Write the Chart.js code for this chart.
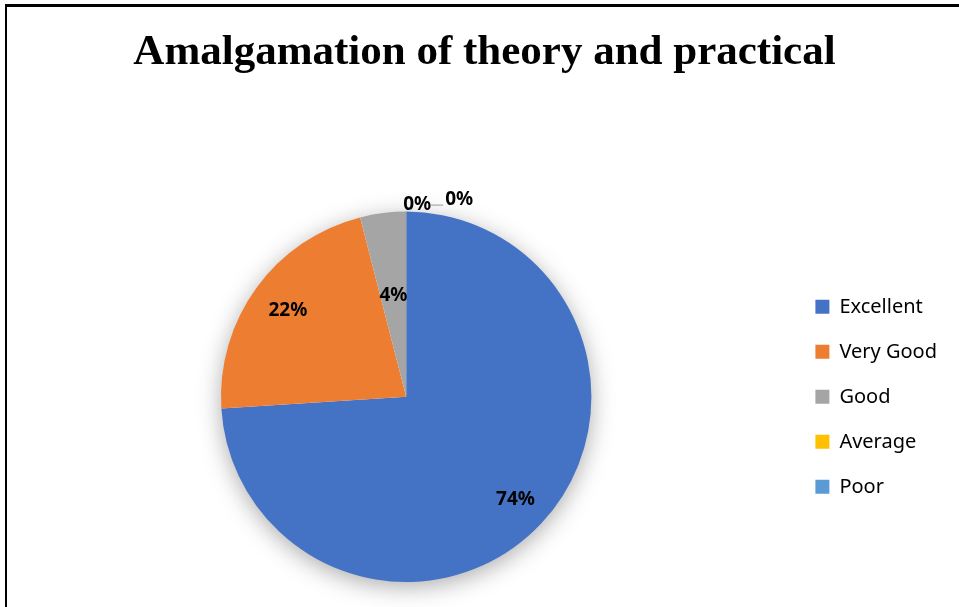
<!DOCTYPE html>
<html>
<head>
<meta charset="utf-8">
<script src="https://cdn.jsdelivr.net/npm/chart.js@4.4.0/dist/chart.umd.min.js"></script>
<style>
  html, body { margin: 0; padding: 0; background: #fff; }
  #wrap { position: relative; width: 959px; height: 607px; overflow: hidden; }
  #frame { position: absolute; left: 5px; top: 4px; width: 2000px; height: 2000px;
           border-top: 3px solid #000; border-left: 2px solid #000; }
  canvas { position: absolute; left: 0; top: 0; }
</style>
</head>
<body>
<div id="wrap">
  <div id="frame"></div>
  <canvas id="pieChart" width="959" height="607"></canvas>
</div>
<script>
// data
const categories = ['Excellent', 'Very Good', 'Good', 'Average', 'Poor'];
const percents = [74, 22, 4, 0, 0];
const sliceColors = ['#4472C4', '#ED7D31', '#A5A5A5', '#FFC000', '#5B9BD5'];

// how far out along the slice each label sits (fraction of radius)
const labelRadius = [0.81, 0.79, 0.55];

// soft shadow drawn under the whole pie
const pieShadow = {
  id: 'pieShadow',
  beforeDatasetsDraw(chart) {
    const arc = chart.getDatasetMeta(0).data[0];
    if (!arc) return;
    const ctx = chart.ctx;
    ctx.save();
    ctx.shadowColor = 'rgba(0,0,0,0.35)';
    ctx.shadowBlur = 24;
    ctx.shadowOffsetY = 5;
    ctx.fillStyle = '#fff';
    ctx.beginPath();
    ctx.arc(arc.x, arc.y, arc.outerRadius - 1, 0, Math.PI * 2);
    ctx.fill();
    ctx.restore();
  }
};

// percentage labels
const pieLabels = {
  id: 'pieLabels',
  afterDatasetsDraw(chart) {
    const ctx = chart.ctx;
    const arcs = chart.getDatasetMeta(0).data;
    ctx.save();
    ctx.font = 'bold 19px "Noto Sans"';
    ctx.fillStyle = '#000';
    ctx.textAlign = 'center';
    ctx.textBaseline = 'middle';
    arcs.forEach((arc, i) => {
      const text = percents[i] + '%';
      if (percents[i] > 0) {
        const mid = (arc.startAngle + arc.endAngle) / 2;
        const r = arc.outerRadius * labelRadius[i];
        ctx.fillText(text, arc.x + Math.cos(mid) * r, arc.y + Math.sin(mid) * r);
      }
    });
    // the two empty slices sit at the top, labelled outside
    const a = arcs[3];
    const topY = a.y - a.outerRadius;
    ctx.fillText(percents[3] + '%', a.x + 11, topY - 7);
    ctx.fillText(percents[4] + '%', a.x + 53, topY - 12);
    ctx.strokeStyle = '#A6A6A6';
    ctx.lineWidth = 1.2;
    ctx.beginPath();
    ctx.moveTo(a.x + 25, topY - 6.5);
    ctx.lineTo(a.x + 37, topY - 6.5);
    ctx.stroke();
    ctx.restore();
  }
};

const ctx = document.getElementById('pieChart').getContext('2d');

new Chart(ctx, {
  type: 'pie',
  data: {
    labels: categories,
    datasets: [{
      data: percents,
      backgroundColor: sliceColors,
      borderWidth: 0,
      hoverOffset: 0,
      offset: 0
    }]
  },
  options: {
    responsive: false,
    animation: false,
    events: [],
    layout: {
      padding: { left: 22, right: 12, top: 0, bottom: 25 }
    },
    plugins: {
      title: {
        display: true,
        text: 'Amalgamation of theory and practical',
        color: '#000',
        font: { family: '"Liberation Serif"', size: 43, weight: 'bold' },
        padding: { top: 27, bottom: 133 }
      },
      legend: {
        position: 'right',
        fullSize: false,
        labels: {
          color: '#000',
          font: { family: '"Noto Sans"', size: 20 },
          boxWidth: 14,
          boxHeight: 14,
          padding: 25
        }
      },
      tooltip: { enabled: false }
    }
  },
  plugins: [pieShadow, pieLabels]
});
</script>
</body>
</html>
